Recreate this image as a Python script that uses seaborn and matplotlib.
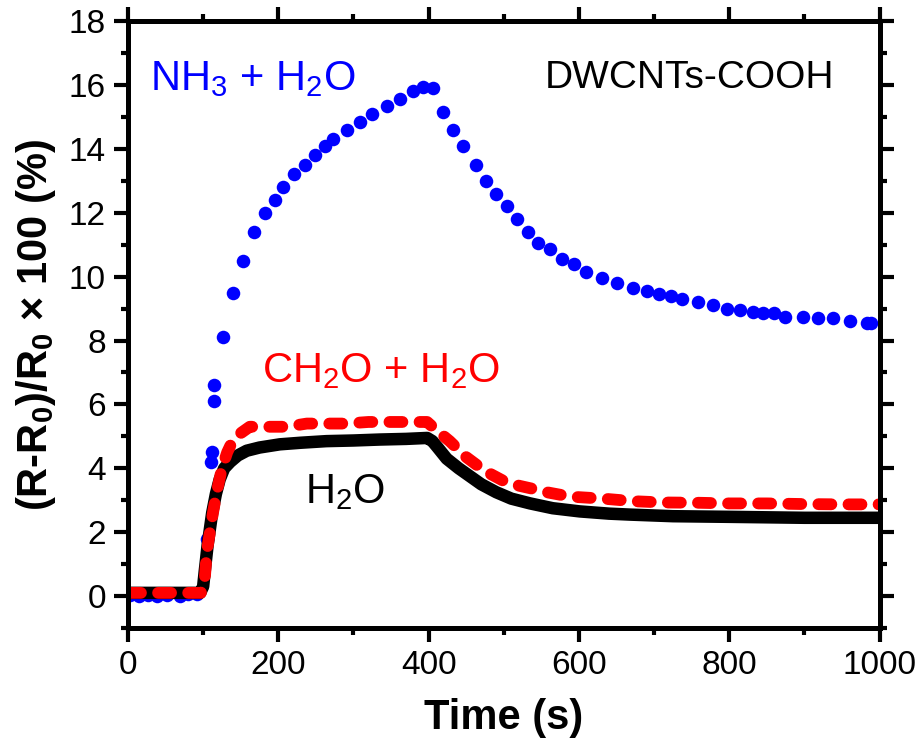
import numpy as np
import pandas as pd
import seaborn as sns
import matplotlib.pyplot as plt
from matplotlib.ticker import MultipleLocator

# NH3 + H2O (blue dots)
blue_t = [3, 15, 27, 39, 52, 69, 80, 92, 105, 111, 112, 114, 115, 126, 140, 153,
          168, 182, 196, 206, 221, 235, 249, 262, 273, 291, 309, 324, 344, 362,
          379, 392, 406, 419, 432, 446, 463, 476, 489, 504, 517, 532, 545, 561,
          578, 594, 610, 630, 650, 672, 690, 707, 723, 737, 758, 778, 797, 814,
          831, 845, 860, 874, 898, 918, 938, 960, 983, 989]
blue_y = [0.02, 0.0, 0.02, 0.0, 0.03, 0.0, 0.05, 0.05, 1.8, 4.2, 4.5, 6.1, 6.6,
          8.1, 9.5, 10.5, 11.4, 12.0, 12.4, 12.8, 13.2, 13.5, 13.8, 14.1, 14.3,
          14.6, 14.85, 15.1, 15.35, 15.55, 15.8, 15.95, 15.9, 15.15, 14.6, 14.1,
          13.5, 13.0, 12.6, 12.2, 11.8, 11.4, 11.05, 10.85, 10.55, 10.4, 10.15,
          9.95, 9.8, 9.65, 9.55, 9.45, 9.4, 9.3, 9.2, 9.1, 9.0, 8.95, 8.9, 8.85,
          8.85, 8.75, 8.75, 8.7, 8.7, 8.6, 8.55, 8.55]

# CH2O + H2O (red)
red_t = [0, 20, 40, 60, 80, 97, 102, 105, 109, 113, 118, 125, 132, 140, 150, 162,
         175, 190, 211, 238, 260, 290, 320, 350, 380, 398, 410, 428, 450, 470,
         484, 500, 521, 540, 557, 580, 597, 632, 672, 712, 760, 800, 850, 900,
         950, 1000]
red_y = [0.1, 0.1, 0.1, 0.1, 0.1, 0.1, 0.5, 1.4, 2.0, 2.6, 3.25, 4.0, 4.5, 4.9,
         5.1, 5.3, 5.3, 5.3, 5.3, 5.4, 5.4, 5.4, 5.45, 5.45, 5.45, 5.45, 5.2,
         4.85, 4.35, 4.0, 3.8, 3.6, 3.45, 3.35, 3.25, 3.15, 3.1, 3.05, 2.97,
         2.93, 2.92, 2.9, 2.9, 2.88, 2.87, 2.87]

# H2O (black)
black_t = [0, 50, 96, 100, 102, 106, 112, 117, 122, 128, 136, 146, 158, 175, 202,
           230, 264, 300, 335, 370, 398, 405, 412, 424, 440, 455, 470, 490, 510,
           535, 565, 601, 640, 668, 725, 800, 900, 1000]
black_y = [0.1, 0.1, 0.1, 0.3, 0.75, 1.6, 2.6, 3.2, 3.65, 4.0, 4.2, 4.4, 4.55,
           4.65, 4.75, 4.8, 4.85, 4.87, 4.9, 4.92, 4.95, 4.85, 4.65, 4.3, 4.0,
           3.75, 3.5, 3.25, 3.05, 2.9, 2.75, 2.65, 2.58, 2.55, 2.5, 2.48, 2.45,
           2.45]

sns.set_style('ticks')
plt.rcParams['font.family'] = ['Liberation Sans', 'DejaVu Sans']
plt.rcParams['mathtext.fontset'] = 'custom'
plt.rcParams['mathtext.rm'] = 'Liberation Sans'
plt.rcParams['mathtext.default'] = 'regular'
plt.rcParams['text.color'] = 'black'
plt.rcParams['axes.labelcolor'] = 'black'
plt.rcParams['axes.edgecolor'] = 'black'
plt.rcParams['xtick.color'] = 'black'
plt.rcParams['ytick.color'] = 'black'

df_b = pd.DataFrame({'t': blue_t, 'y': blue_y})
df_r = pd.DataFrame({'t': red_t, 'y': red_y})
df_k = pd.DataFrame({'t': black_t, 'y': black_y})

fig = plt.figure(figsize=(9.24, 7.53), dpi=100)
ax = fig.add_axes([0.1385, 0.166, 0.8135, 0.806])

sns.lineplot(data=df_k, x='t', y='y', color='black', linewidth=9,
             solid_capstyle='butt', ax=ax)
sns.lineplot(data=df_r, x='t', y='y', color='red', linewidth=8.5,
             linestyle=(0, (1.1, 1.45)), dash_capstyle='round', ax=ax)
sns.scatterplot(data=df_b, x='t', y='y', color='blue', s=95, linewidth=0, ax=ax)

ax.set_xlim(0, 1000)
ax.set_ylim(-1, 18)
ax.xaxis.set_major_locator(MultipleLocator(200))
ax.xaxis.set_minor_locator(MultipleLocator(100))
ax.yaxis.set_major_locator(MultipleLocator(2))
ax.yaxis.set_minor_locator(MultipleLocator(1))
ax.tick_params(which='both', direction='out', width=3, top=True, right=True,
               labelsize=24, pad=6)
ax.tick_params(which='major', length=10)
ax.tick_params(which='minor', length=5)
for sp in ax.spines.values():
    sp.set_linewidth(3.6)

ax.set_xlabel('Time (s)', fontsize=30, fontweight='bold', labelpad=12)
ax.set_ylabel('(R-R$_0$)/R$_0$ × 100 (%)', fontsize=30, fontweight='bold', labelpad=8)

ax.text(29, 15.85, 'NH$_3$ + H$_2$O', color='blue', fontsize=30, va='baseline')
ax.text(555, 15.9, 'DWCNTs-COOH', color='black', fontsize=28, va='baseline')
ax.text(178, 6.7, 'CH$_2$O + H$_2$O', color='red', fontsize=30, va='baseline')
ax.text(235, 2.9, 'H$_2$O', color='black', fontsize=30, va='baseline')

plt.savefig('out.png', dpi=100)
